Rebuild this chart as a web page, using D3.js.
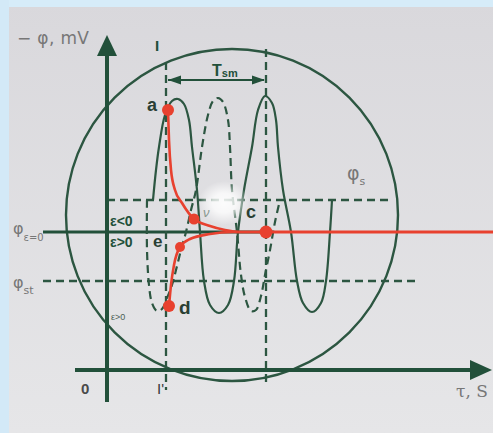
<!DOCTYPE html>
<html><head><meta charset="utf-8">
<script src="https://cdn.jsdelivr.net/npm/d3@7"></script>
<style>html,body{margin:0;padding:0;background:#e1e0e3;}svg{display:block;}</style>
</head><body>
<script>
// ---- data (τ in arbitrary time units, −φ in arbitrary mV units) ----
const levelPhiS = 17.0;      // φ_s
const levelPhiZero = 13.8;   // φ_ε=0
const levelPhiSt = 8.9;      // φ_st
const markerI = 5.9;         // I / I' time mark
const markerC = 15.9;        // end of T_sm
const boxLeft = 4.0;
const solidWave = [[4.6,17.0],[4.9,20.0],[5.2,22.3],[5.8,25.5],[6.5,26.9],[7.1,27.1],[7.7,26.6],[8.2,25.0],[8.5,22.3],[9.0,18.0],[9.3,13.8],[9.7,8.9],[10.3,6.5],[11.2,5.7],[12.1,6.5],[12.7,8.9],[13.1,13.8],[13.7,18.0],[14.5,22.3],[15.1,26.0],[15.8,27.4],[16.5,26.7],[16.9,25.0],[17.1,22.3],[17.6,18.0],[18.4,13.8],[19.0,8.9],[19.6,6.7],[20.5,5.8],[21.4,6.7],[21.9,8.9],[22.3,13.8],[22.5,17.0]];
const dashedWave = [[4.0,17.0],[4.0,12.0],[4.2,8.5],[4.5,6.7],[5.0,5.9],[5.5,6.1],[6.0,7.2],[6.5,8.5],[6.9,10.0],[7.4,12.0],[7.9,13.8],[8.4,16.0],[8.9,18.0],[9.5,22.3],[10.1,25.5],[10.6,26.9],[11.1,27.2],[11.6,26.8],[12.1,25.0],[12.3,22.3],[12.5,18.0],[13.0,13.8],[13.4,9.5],[13.8,7.3],[14.4,5.9],[14.9,6.0],[15.4,7.4],[15.8,9.5],[16.3,12.0],[16.8,14.8],[17.3,17.0]];
const redUpper = [[6.1,26.0],[6.2,23.0],[6.4,20.0],[6.8,18.0],[7.5,16.7],[8.7,15.1],[10.3,14.4],[11.8,14.0],[13.3,13.8],[15.9,13.8]];
const redLower = [[6.2,6.4],[6.4,8.5],[6.7,10.5],[7.3,12.3],[8.3,13.1],[10.3,13.6],[12.6,13.8],[15.9,13.8]];
const pointNames = ["a","b","c","e","d"];
const pointX = [6.1,8.7,15.9,7.3,6.2];
const pointY = [26.0,15.1,13.8,12.3,6.4];
const circleCenter = [12.5,15.5];
const circleRadius = 16.6;

const W=493,H=433;
const xs = d3.scaleLinear().domain([0,38.6]).range([107,493]);
const ys = d3.scaleLinear().domain([0,33.5]).range([370,35]);
const GREEN="#22503a", CURVE="#2c5641", RED="#e8412f", GRAY="#777777";

const svg = d3.select("body").append("svg").attr("width",W).attr("height",H);
const defs = svg.append("defs");
const rg = defs.append("radialGradient").attr("id","glare");
rg.append("stop").attr("offset","0%").attr("stop-color","#fff").attr("stop-opacity",1);
rg.append("stop").attr("offset","45%").attr("stop-color","#fff").attr("stop-opacity",0.85);
rg.append("stop").attr("offset","100%").attr("stop-color","#fff").attr("stop-opacity",0);
const bg = defs.append("linearGradient").attr("id","bg").attr("x1",0).attr("y1",0).attr("x2",0).attr("y2",1);
bg.append("stop").attr("offset","0%").attr("stop-color","#d9d8dc");
bg.append("stop").attr("offset","100%").attr("stop-color","#e6e6e8");

svg.append("rect").attr("width",W).attr("height",H).attr("fill","url(#bg)");
svg.append("rect").attr("width",W).attr("height",7).attr("fill","#d6ecf9");
svg.append("rect").attr("width",9).attr("height",H).attr("fill","#d3e9f7");

// circle
svg.append("circle").attr("cx",xs(circleCenter[0])).attr("cy",ys(circleCenter[1]))
  .attr("r",xs(circleRadius)-xs(0)).attr("fill","none").attr("stroke",CURVE).attr("stroke-width",2.4);

const dash = "8,5";
function hline(y,x0,x1,opts){
  svg.append("line").attr("x1",xs(x0)).attr("x2",xs(x1)).attr("y1",ys(y)).attr("y2",ys(y))
    .attr("stroke",opts.color||CURVE).attr("stroke-width",opts.w||2.3).attr("stroke-dasharray",opts.dash||null);
}
function vline(x,y0,y1,opts){
  svg.append("line").attr("x1",xs(x)).attr("x2",xs(x)).attr("y1",ys(y0)).attr("y2",ys(y1))
    .attr("stroke",opts.color||CURVE).attr("stroke-width",opts.w||2.3).attr("stroke-dasharray",opts.dash||null);
}
// level lines
hline(levelPhiS, 0, 28.5, {dash});
hline(levelPhiSt, -6.4, 31.0, {dash});
hline(levelPhiZero, -6.4, markerC, {w:3, color:GREEN});
// vertical markers
vline(markerI, 30.8, -2.0, {dash});
vline(markerC, 32.1, -1.5, {dash});

// waves
const line = d3.line().x(d=>xs(d[0])).y(d=>ys(d[1])).curve(d3.curveCatmullRom.alpha(0.5));
svg.append("path").attr("d",line(dashedWave)).attr("fill","none").attr("stroke",CURVE).attr("stroke-width",2.2).attr("stroke-dasharray","8,5");
svg.append("path").attr("d",line(solidWave)).attr("fill","none").attr("stroke",CURVE).attr("stroke-width",2.2);

// T_sm arrow
const tY = 29.0;
hline(tY, markerI+0.2, markerC-0.2, {w:2, color:GREEN});
function arrowHead(xTip, y, dir, len, half){
  const p = d3.path();
  p.moveTo(xs(xTip), ys(y));
  p.lineTo(xs(xTip)-dir*len, ys(y)-half);
  p.lineTo(xs(xTip)-dir*len, ys(y)+half);
  p.closePath();
  svg.append("path").attr("d",p.toString()).attr("fill",GREEN);
}
arrowHead(markerI+0.2, tY, -1, 13, 4.5);
arrowHead(markerC-0.1, tY, 1, 13, 4.5);

// axes
svg.append("line").attr("x1",xs(0)).attr("x2",xs(0)).attr("y1",ys(-3.2)).attr("y2",ys(31.4))
  .attr("stroke",GREEN).attr("stroke-width",4);
svg.append("line").attr("x1",xs(-3.2)).attr("x2",xs(36.4)).attr("y1",ys(0)).attr("y2",ys(0))
  .attr("stroke",GREEN).attr("stroke-width",4);
{
  const p=d3.path(); p.moveTo(xs(0),ys(33.5)); p.lineTo(xs(0)-10,ys(31.4)); p.lineTo(xs(0)+10,ys(31.4)); p.closePath();
  svg.append("path").attr("d",p.toString()).attr("fill",GREEN);
  const q=d3.path(); q.moveTo(xs(38.5),ys(0)); q.lineTo(xs(36.3),ys(0)-10); q.lineTo(xs(36.3),ys(0)+10); q.closePath();
  svg.append("path").attr("d",q.toString()).attr("fill",GREEN);
}

// red curves
const rline = d3.line().x(d=>xs(d[0])).y(d=>ys(d[1])).curve(d3.curveMonotoneX);
svg.append("path").attr("d",rline(redUpper)).attr("fill","none").attr("stroke",RED).attr("stroke-width",2.6);
svg.append("path").attr("d",rline(redLower)).attr("fill","none").attr("stroke",RED).attr("stroke-width",2.6);
hline(levelPhiZero, markerC, 38.6, {w:2.8, color:RED});
const rr = [6,5.5,6.5,5,6];
pointNames.forEach((n,i)=>{
  svg.append("circle").attr("cx",xs(pointX[i])).attr("cy",ys(pointY[i])).attr("r",rr[i]).attr("fill",RED);
});

// glare
svg.append("ellipse").attr("cx",224).attr("cy",203).attr("rx",26).attr("ry",22).attr("fill","url(#glare)").attr("opacity",0.9);

// text
const SANS="'Liberation Sans', Arial, sans-serif";
function txt(x,y,s,o={}){
  return svg.append("text").attr("x",x).attr("y",y).text(s)
    .attr("font-family",o.family||SANS).attr("font-size",o.size||16)
    .attr("font-weight",o.weight||"normal").attr("fill",o.color||GRAY)
    .attr("font-style",o.style||"normal");
}
txt(17,44,"− φ, mV",{size:17,family:"'DejaVu Sans', sans-serif"}).attr("textLength",72).attr("lengthAdjust","spacing");
txt(155,51,"I",{size:15,weight:"bold",color:GREEN});
{
  const t = txt(212,76,"T",{size:16,weight:"bold",color:GREEN});
  t.append("tspan").text("sm").attr("font-size",11).attr("dy",1);
}
txt(147,111,"a",{size:18,weight:"bold",color:"#2a3f34"});
txt(246,218,"c",{size:18,weight:"bold",color:"#2a3f34"});
txt(179,314,"d",{size:19,weight:"bold",color:"#2a3f34"});
txt(153,247,"e",{size:17,weight:"bold",color:"#2a3f34"});
txt(203,217,"ν",{size:13,style:"italic",color:"#8a9990"});
txt(110,226,"ε<0",{size:14,weight:"bold",color:GREEN});
txt(110,247,"ε>0",{size:14,weight:"bold",color:GREEN});
txt(111,320,"ε>0",{size:9,color:"#4d5f55"});
txt(81,394,"0",{size:15,weight:"bold",color:"#4a4a4a"});
txt(157,394,"I'",{size:15,color:"#3a3a3a"});
{
  const t = txt(13,234,"φ",{size:16,family:"'DejaVu Sans', sans-serif"});
  t.append("tspan").text("ε=0").attr("font-size",10).attr("dy",7);
  const u = txt(13,288,"φ",{size:16,family:"'DejaVu Sans', sans-serif"});
  u.append("tspan").text("st").attr("font-size",11).attr("dy",6);
  const v = txt(347,180,"φ",{size:19,family:"'DejaVu Sans', sans-serif"});
  v.append("tspan").text("s").attr("font-size",11).attr("dy",5);
}
txt(456,397,"τ, S",{size:17,family:"'DejaVu Serif', serif"});
</script>
</body></html>
